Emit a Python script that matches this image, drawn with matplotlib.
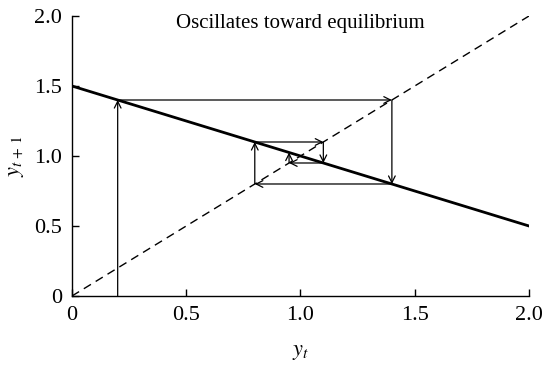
import matplotlib
matplotlib.use("Agg")
import matplotlib.pyplot as plt
import numpy as np

plt.rcParams['font.family'] = ['Liberation Serif', 'DejaVu Serif']
plt.rcParams['mathtext.fontset'] = 'stix'

# Difference equation y_{t+1} = a + b*y_t
intercept = 1.5
slope = -0.5
line_x = [0.0, 2.0]

# Cobweb path starting at y_0 = 0.2
cobweb_x = [0.2, 0.2, 1.4, 1.4, 0.8, 0.8, 1.1, 1.1, 0.95, 0.95]
cobweb_y = [0.0, 1.4, 1.4, 0.8, 0.8, 1.1, 1.1, 0.95, 0.95, 1.025]

ticks = [0, 0.5, 1.0, 1.5, 2.0]
tick_labels = ["0", "0.5", "1.0", "1.5", "2.0"]

fig = plt.figure(figsize=(5.42, 3.68), dpi=100)
ax = fig.add_axes([0.1328, 0.1957, 0.8432, 0.7608])

lx = np.array(line_x)
ax.plot(lx, intercept + slope * lx, color='black', lw=2.0, zorder=3)
ax.plot([0, 2], [0, 2], color='black', lw=1.0, dashes=(6, 4), zorder=2)

for i in range(len(cobweb_x) - 1):
    ax.annotate("", xy=(cobweb_x[i + 1], cobweb_y[i + 1]),
                xytext=(cobweb_x[i], cobweb_y[i]),
                arrowprops=dict(arrowstyle="->", color='black', lw=0.9,
                                shrinkA=0, shrinkB=0,
                                mutation_scale=12))

ax.text(1.0, 1.95, "Oscillates toward equilibrium", ha='center', va='center',
        fontsize=15)

ax.set_xlim(0, 2.0)
ax.set_ylim(0, 2.0)
ax.set_xticks(ticks)
ax.set_xticklabels(tick_labels)
ax.set_yticks(ticks)
ax.set_yticklabels(tick_labels)
ax.tick_params(direction='in', length=5, width=1, labelsize=16, pad=7)
ax.spines['top'].set_visible(False)
ax.spines['right'].set_visible(False)
for s in ('left', 'bottom'):
    ax.spines[s].set_linewidth(1.0)

ax.set_xlabel(r"$y_t$", fontsize=16, labelpad=13)
ax.set_ylabel(r"$y_{t\,+\,1}$", fontsize=16, labelpad=6)

fig.savefig("out.png", dpi=100)
